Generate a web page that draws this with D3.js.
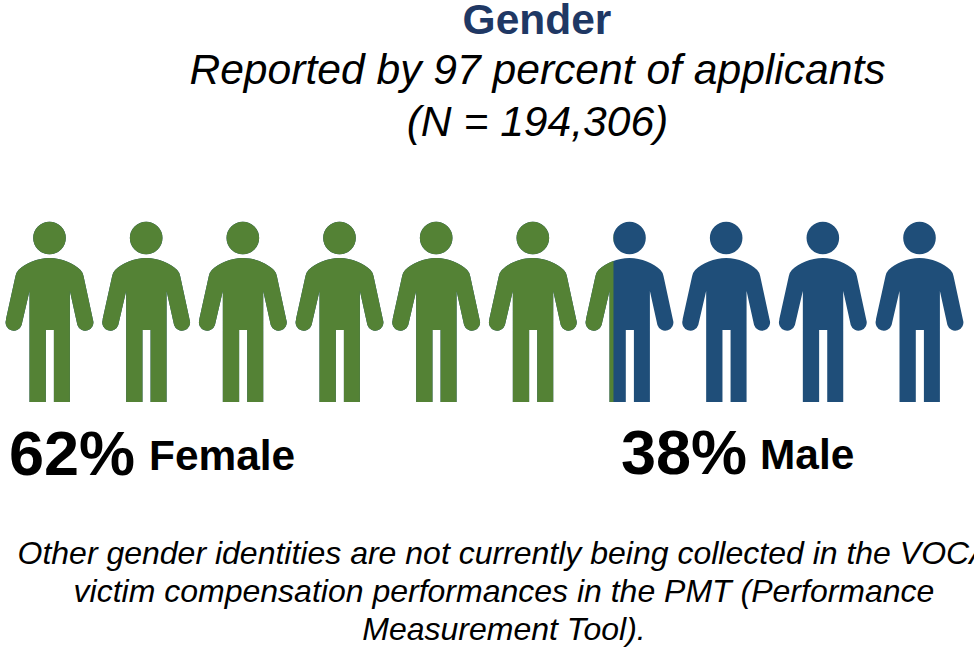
<!DOCTYPE html>
<html>
<head>
<meta charset="utf-8">
<script src="https://cdn.jsdelivr.net/npm/d3@7"></script>
<style>
    html, body { margin: 0; padding: 0; background: #fff; }
    svg { display: block; }
    text { font-family: "Liberation Sans", Arial, sans-serif; }
</style>
</head>
<body>
<div id="chart"></div>
<script>
// Chart values
var categories = ["Female", "Male"];
var percents = [62, 38];
var figureIndex = d3.range(10);
// The picture fills 6.32 of the 10 figures green
var femaleFigures = 6.32;

var titleText = "Gender";
var subtitleLines = ["Reported by 97 percent of applicants", "(N = 194,306)"];
var noteLines = [
    "Other gender identities are not currently being collected in the VOCA",
    "victim compensation performances in the PMT (Performance",
    "Measurement Tool)."
];

var colors = d3.scaleOrdinal().domain(categories).range(["#548235", "#1f4e79"]);

var svgWidth = 974;
var svgHeight = 648;

var svg = d3.select("#chart")
    .append("svg")
    .attr("width", svgWidth)
    .attr("height", svgHeight);

// Title block
svg.append("text")
    .attr("x", 537)
    .attr("y", 34)
    .attr("text-anchor", "middle")
    .attr("font-size", 42.5)
    .attr("font-weight", "bold")
    .attr("fill", "#1f3864")
    .text(titleText);

svg.selectAll(".subtitle")
    .data(subtitleLines)
    .enter()
    .append("text")
    .attr("class", "subtitle")
    .attr("x", 537.5)
    .attr("y", (d, i) => 84 + i * 52)
    .attr("text-anchor", "middle")
    .attr("font-size", 42.6)
    .attr("font-style", "italic")
    .attr("fill", "#000")
    .text(d => d);

// x scale: one position per figure
var xFigure = d3.scalePoint()
    .domain(figureIndex)
    .range([49.5, 919.5]);

// share of one figure's width, left hand to right hand
var figureHalf = 44.5;
var xShare = d3.scaleLinear()
    .domain([0, 1])
    .range([-figureHalf, figureHalf]);

// Person icon, origin at the head centre
function personPath() {
    var p = d3.path();
    p.moveTo(0, 20);
    p.bezierCurveTo(-12, 20, -24, 25, -31, 32);
    p.quadraticCurveTo(-33, 34, -34, 38);
    p.lineTo(-43.5, 81);
    p.arc(-35.7, 84.5, 8.2, Math.PI * 1.1, Math.PI * 0.1, true);
    p.lineTo(-20, 53);
    p.lineTo(-20, 164);
    p.lineTo(-3.7, 164);
    p.lineTo(-3.7, 92);
    p.lineTo(4.4, 92);
    p.lineTo(4.4, 164);
    p.lineTo(20.4, 164);
    p.lineTo(20.4, 53);
    p.lineTo(27.9, 87);
    p.arc(35.7, 84.5, 8.2, Math.PI * 0.9, Math.PI * 1.9, true);
    p.lineTo(34, 38);
    p.quadraticCurveTo(33, 34, 31, 32);
    p.bezierCurveTo(24, 25, 12, 20, 0, 20);
    p.closePath();
    p.moveTo(16.3, 0);
    p.arc(0, 0, 16.3, 0, Math.PI * 2);
    return p.toString();
}

var figuresGroup = svg.append("g");
var defs = svg.append("defs");

// Each figure draws in both colours, clipped at the part that belongs to each
var figures = figuresGroup.selectAll("g")
    .data(figureIndex)
    .enter()
    .append("g")
    .attr("transform", d => `translate(${xFigure(d)}, 238)`);

defs.selectAll("clipPath")
    .data(figureIndex)
    .enter()
    .append("clipPath")
    .attr("id", d => `female-clip-${d}`)
    .append("rect")
    .attr("x", -figureHalf - 2)
    .attr("y", -20)
    .attr("width", d => xShare(Math.max(0, Math.min(1, femaleFigures - d))) + figureHalf + 2)
    .attr("height", 190);

figures.append("path")
    .attr("d", personPath())
    .attr("fill", colors("Male"));

figures.append("path")
    .attr("d", personPath())
    .attr("fill", colors("Female"))
    .attr("clip-path", d => `url(#female-clip-${d})`);

// Percent labels
var labelLeft = [9, 621];
var labelGap = [141, 140];
var labelBase = [475, 474];

svg.selectAll(".percent")
    .data(percents)
    .enter()
    .append("text")
    .attr("class", "percent")
    .attr("x", (d, i) => labelLeft[i])
    .attr("y", (d, i) => labelBase[i])
    .attr("font-size", 63)
    .attr("font-weight", "bold")
    .attr("fill", "#000")
    .text(d => d + "%");

svg.selectAll(".category")
    .data(categories)
    .enter()
    .append("text")
    .attr("class", "category")
    .attr("x", (d, i) => labelLeft[i] + labelGap[i] - 1)
    .attr("y", (d, i) => labelBase[i] - 5)
    .attr("font-size", 42.4)
    .attr("font-weight", "bold")
    .attr("fill", "#000")
    .text(d => d);

// Footnote
svg.selectAll(".note")
    .data(noteLines)
    .enter()
    .append("text")
    .attr("class", "note")
    .attr("x", 504)
    .attr("y", (d, i) => 564 + i * 38)
    .attr("text-anchor", "middle")
    .attr("font-size", 32)
    .attr("font-style", "italic")
    .attr("fill", "#000")
    .text(d => d);
</script>
</body>
</html>
